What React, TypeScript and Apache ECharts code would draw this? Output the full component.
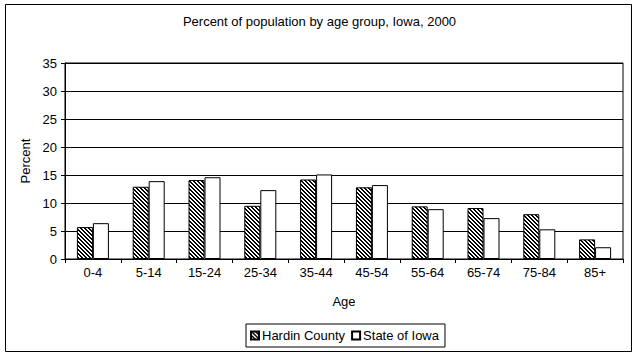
import React, { useEffect, useRef } from "react";
import * as echarts from "echarts";

const categories = ["0-4", "5-14", "15-24", "25-34", "35-44", "45-54", "55-64", "65-74", "75-84", "85+"];
const hardinCounty = [5.7, 12.9, 14.1, 9.5, 14.2, 12.8, 9.4, 9.1, 8.0, 3.5];
const stateOfIowa = [6.4, 13.9, 14.6, 12.3, 15.1, 13.2, 8.9, 7.3, 5.3, 2.1];
const yTicks = [0, 5, 10, 15, 20, 25, 30, 35];

const FONT = "'Liberation Sans', Arial, sans-serif";
const FS = 13;

function makeHatch(): HTMLCanvasElement {
  const c = document.createElement("canvas");
  c.width = 4;
  c.height = 4;
  const ctx = c.getContext("2d")!;
  ctx.fillStyle = "#fff";
  ctx.fillRect(0, 0, 4, 4);
  ctx.fillStyle = "#000";
  for (let y = 0; y < 4; y++) {
    for (let x = 0; x < 4; x++) {
      const d = (((x - y) % 4) + 4) % 4;
      if (d === 0 || d === 1) ctx.fillRect(x, y, 1, 1);
    }
  }
  return c;
}

export default function App() {
  const ref = useRef<HTMLDivElement>(null);
  useEffect(() => {
    document.body.style.margin = "0";
    const chart = echarts.init(ref.current!, null, { renderer: "svg" });
    const hatch = makeHatch();
    chart.setOption({
      animation: false,
      backgroundColor: "#fff",
      textStyle: { fontFamily: FONT, color: "#000" },
      title: {
        text: "Percent of population by age group, Iowa, 2000",
        left: "center",
        top: 10,
        textStyle: { fontFamily: FONT, fontSize: FS, fontWeight: "normal", color: "#000" },
      },
      graphic: [
        {
          type: "rect",
          shape: { x: 5.5, y: 4.5, width: 626, height: 347 },
          style: { fill: "none", stroke: "#000", lineWidth: 1 },
          silent: true,
        },
      ],
      legend: {
        bottom: 11,
        left: 246,
        itemWidth: 8,
        itemHeight: 8,
        itemGap: 6,
        padding: [5, 6, 5, 4],
        borderColor: "#000",
        borderWidth: 1,
        icon: "rect",
        textStyle: { fontFamily: FONT, fontSize: FS, color: "#000", padding: [0, 0, 0, -2] },
        data: ["Hardin County", "State of Iowa"],
      },
      grid: {
        left: 65,
        right: 16,
        top: 63,
        bottom: 99,
        show: true,
        borderColor: "#000",
        borderWidth: 1,
        backgroundColor: "#fff",
      },
      xAxis: {
        type: "category",
        data: categories,
        name: "Age",
        nameLocation: "middle",
        nameGap: 36,
        nameTextStyle: { fontFamily: FONT, fontSize: FS, color: "#000" },
        axisLine: { lineStyle: { color: "#000", width: 1 } },
        axisTick: { show: true, length: 4, inside: false, lineStyle: { color: "#000" } },
        axisLabel: { fontFamily: FONT, fontSize: FS, color: "#000", margin: 7 },
        splitLine: { show: false },
      },
      yAxis: {
        type: "value",
        min: 0,
        max: 35,
        interval: 5,
        name: "Percent",
        nameLocation: "middle",
        nameGap: 32,
        nameRotate: 90,
        nameTextStyle: { fontFamily: FONT, fontSize: FS, color: "#000" },
        axisLine: { show: true, lineStyle: { color: "#000", width: 1 } },
        axisTick: { show: true, length: 4, inside: false, lineStyle: { color: "#000" } },
        axisLabel: {
          fontFamily: FONT,
          fontSize: FS,
          color: "#000",
          margin: 8,
          formatter: (v: number) => (yTicks.includes(v) ? String(v) : ""),
        },
        splitLine: { show: true, lineStyle: { color: "#000", width: 1 } },
      },
      series: [
        {
          name: "Hardin County",
          type: "bar",
          data: hardinCounty,
          barWidth: 16,
          barGap: "0%",
          itemStyle: {
            color: { image: hatch, repeat: "repeat", imageWidth: 4, imageHeight: 4 },
            borderColor: "#000",
            borderWidth: 1,
          },
        },
        {
          name: "State of Iowa",
          type: "bar",
          data: stateOfIowa,
          barWidth: 16,
          barGap: "0%",
          itemStyle: { color: "#fff", borderColor: "#000", borderWidth: 1 },
        },
      ],
    });
    return () => chart.dispose();
  }, []);
  return <div ref={ref} style={{ width: 639, height: 358 }} />;
}
